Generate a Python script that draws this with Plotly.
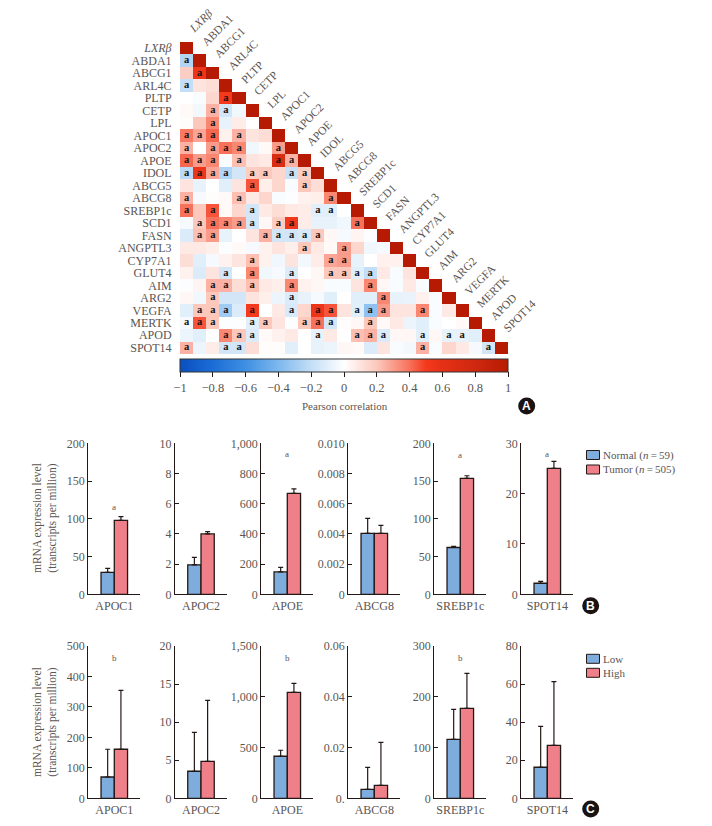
import plotly.graph_objects as go

PAGE_W, PAGE_H = 712, 826
PAD = 8  # the page keeps a body margin of 8 px
W, H = PAGE_W - PAD, PAGE_H - PAD
SERIF = "Liberation Serif"
INK = "#231815"
TXT = "#5b5552"
BLUE = "#7eacdc"
PINK = "#ef808a"

genes = ["<i>LXRβ</i>", "ABDA1", "ABCG1", "ARL4C", "PLTP", "CETP", "LPL", "APOC1", "APOC2", "APOE", "IDOL",
         "ABCG5", "ABCG8", "SREBP1c", "SCD1", "FASN", "ANGPTL3", "CYP7A1", "GLUT4", "AIM", "ARG2", "VEGFA",
         "MERTK", "APOD", "SPOT14"]

# lower triangle of the correlation matrix
corr_rows = [
    [1],
    [-.25, 1],
    [.18, .55, 1],
    [-.2, .1, .12, 1],
    [0, -.02, .15, .5, 1],
    [.02, -.04, .25, -.15, -.05, 1],
    [.01, .2, .35, -.08, .07, 0, 1],
    [.38, .28, .42, .05, .25, .1, .12, 1],
    [.25, 0, .3, .4, .35, -.05, .02, .3, 1],
    [.42, .3, .35, -.02, .22, .1, .08, .7, .25, 1],
    [-.22, .55, .28, -.25, -.15, .18, .2, .15, -.18, .18, 1],
    [.1, -.08, 0, -.1, .1, .45, .06, .15, -.02, .2, .12, 1],
    [.25, -.03, .01, .02, .22, .08, .15, -.02, -.01, .05, .06, .35, 1],
    [.4, .2, .45, .02, .15, -.15, .08, .12, .08, .07, -.1, -.1, 0, 1],
    [-.03, .2, .4, .35, .3, -.15, .03, .18, .52, .07, -.08, -.08, -.05, .4, 1],
    [-.12, .22, .3, -.08, 0, .1, .25, -.15, -.15, -.13, .2, .03, -.03, .04, -.01, 1],
    [.08, .08, .06, -.01, .02, -.03, .05, .1, .06, .2, .08, .02, .3, .15, -.05, -.03, 1],
    [.12, -.1, -.03, .05, .1, .22, .05, -.05, .1, -.04, .07, .28, .3, -.08, 0, .05, .05, 1],
    [.05, -.12, .1, -.15, 0, .35, -.05, -.03, -.12, 0, .03, .2, .2, -.1, -.2, .08, -.02, .1, 1],
    [-.01, .04, .25, .25, .12, .22, .08, .06, .35, .05, .03, -.02, -.02, .1, .35, .03, -.02, .08, -.02, 1],
    [.03, -.05, .2, -.15, -.15, .1, .06, -.06, -.12, -.08, -.03, -.1, 0, -.1, -.1, .35, -.08, -.07, .05, -.02, 1],
    [-.1, .2, .2, -.3, -.12, .5, 0, .08, -.13, .15, .55, .45, .1, -.1, -.35, .3, .1, .1, .35, -.02, .08, 1],
    [-.03, .45, .2, -.01, -.01, -.1, .2, .1, -.01, .2, .4, -.15, .01, .03, .2, .02, .08, -.06, -.1, -.02, 0, .02, 1],
    [-.06, -.1, 0, .35, .2, -.12, .02, .05, .08, 0, -.08, .08, 0, .22, .25, -.12, .03, .03, -.1, .03, -.08, -.08,
     -.1, 1],
    [.25, -.06, .07, -.15, -.15, .12, .01, .01, -.1, 0, -.08, -.06, .03, .02, -.12, .1, -.02, -.04, .25, -.02, .15,
     .08, -.03, -.15, 1],
]

# columns carrying the "a" mark, row by row
sig_cols = [[], [0], [1], [0], [3], [2, 3], [2], [0, 1, 2, 4], [0, 2, 3, 4, 7], [0, 1, 2, 4, 7, 8],
            [0, 1, 2, 3, 5, 6, 8, 9], [5, 9], [0, 4, 11], [0, 2, 5, 10, 11], [1, 2, 3, 4, 5, 7, 8, 13],
            [1, 2, 6, 7, 8, 9, 10], [9, 12], [5, 11, 12], [3, 5, 8, 11, 12, 13, 14], [2, 3, 5, 8, 14],
            [2, 8, 15], [1, 2, 3, 5, 8, 10, 11, 13, 14, 15, 18], [0, 1, 2, 5, 6, 9, 10, 11, 14],
            [3, 4, 5, 10, 13, 14, 15, 18, 20, 21], [0, 3, 4, 18, 23]]

corr_ticks = [-1, -.8, -.6, -.4, -.2, 0, .2, .4, .6, .8, 1]
corr_tick_text = ["−1", "−0.8", "−0.6", "−0.4", "−0.2", "0", "0.2", "0.4", "0.6", "0.8", "1"]

bar_genes = ["APOC1", "APOC2", "APOE", "ABCG8", "SREBP1c", "SPOT14"]

# panel B
normal_vals = [29, 1.95, 148, .00404, 62, 2.2]
normal_errs = [5.4, .5, 30, .00099, 1.5, .35]
tumor_vals = [98, 4.0, 668, .00404, 153.6, 25]
tumor_errs = [5, .15, 30, .00053, 3.4, 1.4]
b_ticks = [[0, 50, 100, 150, 200], [0, 2, 4, 6, 8, 10], [0, 200, 400, 600, 800, 1000],
           [0, .002, .004, .006, .008, .01], [0, 50, 100, 150, 200], [0, 10, 20, 30]]
b_tick_text = [["0", "50", "100", "150", "200"], ["0", "2", "4", "6", "8", "10"],
               ["0", "200", "400", "600", "800", "1,000"], ["0", "0.002", "0.004", "0.006", "0.008", "0.010"],
               ["0", "50", "100", "150", "200"], ["0", "10", "20", "30"]]
b_marks = ["a", "", "a", "", "a", "a"]
b_mark_y = [116, None, 927, None, 185, 27.8]

# panel C
low_vals = [70, 3.55, 414, .0035, 116, 16.3]
low_errs = [91, 5.11, 59, .0087, 59, 21.5]
high_vals = [161, 4.86, 1044, .0051, 177, 27.8]
high_errs = [193, 8.01, 88, .0169, 69, 33.5]
c_ticks = [[0, 100, 200, 300, 400, 500], [0, 5, 10, 15, 20], [0, 500, 1000, 1500],
           [0, .02, .04, .06], [0, 100, 200, 300], [0, 20, 40, 60, 80]]
c_tick_text = [["0", "100", "200", "300", "400", "500"], ["0", "5", "10", "15", "20"],
               ["0", "500", "1,000", "1,500"], ["0.", "0.02", "0.04", "0.06"], ["0", "100", "200", "300"],
               ["0", "20", "40", "60", "80"]]
c_marks = ["b", "", "b", "", "b", ""]
c_mark_y = [460, None, 1381, None, 276, None]

axis_left = [88.3, 175, 261.3, 348.3, 434.3, 521.3]
AXIS_W = 52


def px_x(p):
    return (p - PAD) / W


def px_y(p):
    return 1 - (p - PAD) / H


fig = go.Figure()
layout = {}
annos = []
shapes = []

# heatmap panel
n = len(genes)
z = [corr_rows[i] + [None] * (n - i - 1) for i in range(n)]
scale = [[0, "#0a4fbf"], [.1, "#1b6dd6"], [.2, "#3f8fe3"], [.3, "#7db8ee"], [.4, "#c3def6"], [.5, "#ffffff"],
         [.6, "#fcc8bc"], [.7, "#f8715a"], [.75, "#f4391d"], [.8, "#e53016"], [.9, "#cf2810"], [1, "#b71a02"]]
fig.add_trace(go.Heatmap(
    z=z, x=list(range(n)), y=list(range(n)), zmin=-1, zmax=1, colorscale=scale, hoverongaps=False,
    xaxis="x", yaxis="y",
    colorbar=dict(orientation="h", lenmode="pixels", len=328, thicknessmode="pixels", thickness=13,
                  x=px_x(344), xanchor="center", y=px_y(359), yanchor="top", xpad=0, ypad=0,
                  outlinecolor="#333333", outlinewidth=1, ticks="outside", ticklen=5, tickcolor=INK,
                  tickvals=corr_ticks, ticktext=corr_tick_text,
                  tickfont=dict(family=SERIF, size=12.5, color=TXT))))
sig_x = [j for i in range(n) for j in sig_cols[i]]
sig_y = [i for i in range(n) for j in sig_cols[i]]
fig.add_trace(go.Scatter(x=sig_x, y=sig_y, mode="text", text=["<b>a</b>"] * len(sig_x), xaxis="x", yaxis="y",
                         textposition="middle center", showlegend=False, hoverinfo="skip",
                         textfont=dict(family=SERIF, size=10.5, color="#111111")))
layout["xaxis"] = dict(domain=[px_x(180), px_x(508)], range=[-.5, n - .5], visible=False, anchor="y")
layout["yaxis"] = dict(domain=[px_y(354), px_y(42)], range=[n - .5, -.5], anchor="x", tickmode="array",
                       tickvals=list(range(n)), ticktext=genes, ticks="outside", ticklen=5, tickcolor="rgba(0,0,0,0)",
                       showline=False, showgrid=False, zeroline=False,
                       tickfont=dict(family=SERIF, size=12, color=TXT))
for j, g in enumerate(genes):
    annos.append(dict(x=j, y=j - .5, xref="x", yref="y", text=g, textangle=-45, showarrow=False, xshift=-3, yshift=4,
                      xanchor="left", yanchor="bottom", font=dict(family=SERIF, size=11.5, color=TXT)))
annos.append(dict(x=px_x(345), y=px_y(406), xref="paper", yref="paper", text="Pearson correlation", showarrow=False,
                  xanchor="center", yanchor="middle", font=dict(family=SERIF, size=11, color=TXT)))


# one row of six small bar panels
def add_panel(start, top, bottom, first, second, first_err, second_err, ticks, tick_text, marks_, mark_y):
    for k, g in enumerate(bar_genes):
        num = start + k
        xa, ya = f"x{num}", f"y{num}"
        for vals, errs, col in ((first, first_err, BLUE), (second, second_err, PINK)):
            fig.add_trace(go.Bar(
                x=[g], y=[vals[k]], xaxis=xa, yaxis=ya, width=.255, showlegend=False, offsetgroup=str(col),
                marker=dict(color=col, line=dict(color=INK, width=1.3)),
                error_y=dict(type="data", symmetric=False, array=[errs[k]], arrayminus=[0], color=INK,
                             thickness=1.2, width=2.5)))
        layout[f"xaxis{num}"] = dict(domain=[px_x(axis_left[k]), px_x(axis_left[k] + AXIS_W)], anchor=ya,
                                     type="category", showline=True, linecolor=INK, linewidth=1.3, ticks="",
                                     showgrid=False, tickfont=dict(family=SERIF, size=12, color=TXT))
        layout[f"yaxis{num}"] = dict(domain=[px_y(bottom), px_y(top)], anchor=xa, range=[0, ticks[k][-1]],
                                     tickmode="array", tickvals=ticks[k], ticktext=tick_text[k], ticks="inside",
                                     ticklen=4, tickcolor=INK, tickwidth=1.2, showline=True, linecolor=INK,
                                     linewidth=1.3, showgrid=False, zeroline=False,
                                     tickfont=dict(family=SERIF, size=12, color=TXT))
        if marks_[k]:
            annos.append(dict(x=g, y=mark_y[k], xref=xa, yref=ya, text=marks_[k], showarrow=False,
                              xanchor="center", yanchor="middle", font=dict(family=SERIF, size=9, color=TXT)))


add_panel(2, 443.3, 594.3, normal_vals, tumor_vals, normal_errs, tumor_errs, b_ticks, b_tick_text, b_marks, b_mark_y)
add_panel(8, 646, 798.3, low_vals, high_vals, low_errs, high_errs, c_ticks, c_tick_text, c_marks, c_mark_y)

# y titles
for yc in (518, 722):
    annos.append(dict(x=px_x(45), y=px_y(yc), xref="paper", yref="paper", textangle=-90, showarrow=False, align="center",
                      xanchor="center", yanchor="middle", text="mRNA expression level<br>(transcripts per million)",
                      font=dict(family=SERIF, size=11.5, color=TXT)))

# hand-placed legends
legend_rows = [(450.5, BLUE, "Normal (<i>n</i>\u2009=\u200959)"), (465, PINK, "Tumor (<i>n</i>\u2009=\u2009505)"),
               (654.3, BLUE, "Low"), (668.3, PINK, "High")]
for top_px, col, label in legend_rows:
    shapes.append(dict(type="rect", xref="paper", yref="paper", x0=px_x(586.5), x1=px_x(599.5), y0=px_y(top_px),
                       y1=px_y(top_px + 9), fillcolor=col, line=dict(color=INK, width=1)))
    annos.append(dict(x=px_x(601), y=px_y(top_px + 4.5), xref="paper", yref="paper", text=label, showarrow=False,
                      xanchor="left", yanchor="middle", font=dict(family=SERIF, size=11, color=TXT)))

# panel letters
for cx, cy, letter in [(526.7, 406, "A"), (590.7, 605.7, "B"), (590.7, 809, "C")]:
    shapes.append(dict(type="circle", xref="paper", yref="paper", x0=px_x(cx - 8.5), x1=px_x(cx + 8.5), y0=px_y(cy + 8.5),
                       y1=px_y(cy - 8.5), fillcolor="#1a1311", line=dict(width=0)))
    annos.append(dict(x=px_x(cx), y=px_y(cy), xref="paper", yref="paper", text=f"<b>{letter}</b>", showarrow=False,
                      xanchor="center", yanchor="middle", font=dict(family="Liberation Sans", size=12, color="white")))

fig.update_layout(width=W, height=H, margin=dict(l=0, r=0, t=0, b=0, autoexpand=False), paper_bgcolor="white",
                  plot_bgcolor="white", barmode="group", bargap=.49, bargroupgap=0, showlegend=False,
                  annotations=annos, shapes=shapes, **layout)
fig.write_html("out.html")
